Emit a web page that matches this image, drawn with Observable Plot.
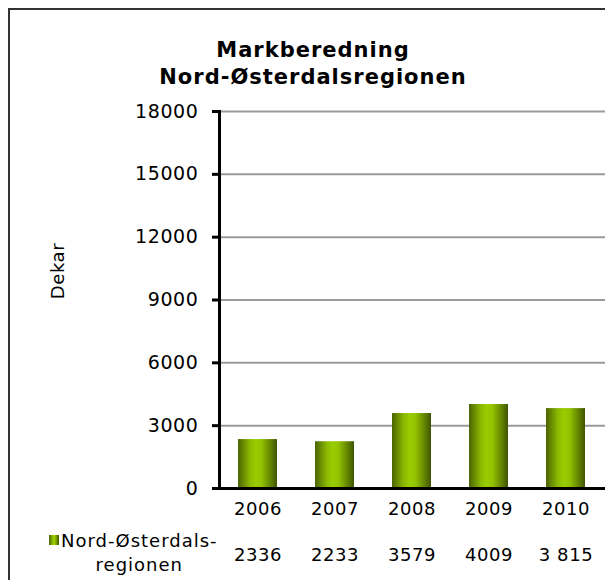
<!DOCTYPE html>
<html><head><meta charset="utf-8">
<script src="https://cdn.jsdelivr.net/npm/d3@7"></script>
<script src="https://cdn.jsdelivr.net/npm/@observablehq/plot@0.6"></script>
<style>
body{margin:0;background:#fff;}
#wrap{position:relative;width:605px;height:580px;overflow:hidden;font-family:"DejaVu Sans",Verdana,sans-serif;color:#000;}
#border{position:absolute;left:8px;top:8px;width:640px;height:640px;border:2px solid #333;}
#title{position:absolute;left:113px;width:400px;top:37px;text-align:center;font-weight:bold;font-size:21px;line-height:27px;letter-spacing:1px;}
#chart{position:absolute;left:0;top:0;}
#legend{position:absolute;left:61px;top:529px;font-size:18px;line-height:24px;text-align:center;letter-spacing:1px;white-space:nowrap;}
#swatch{position:absolute;left:49px;top:535px;width:10px;height:10px;background:linear-gradient(to right,#4b6400,#99cc00 45%,#93c300 60%,#3f5400);}
</style>
</head><body>
<div id="wrap">
  <div id="border"></div>
  <div id="chart"></div>
  <div id="title">Markberedning<br>Nord-Østerdalsregionen</div>
  <div id="swatch"></div>
  <div id="legend">Nord-Østerdals-<br>regionen</div>
</div>
<script>
const years = ["2006", "2007", "2008", "2009", "2010"];
const values = [2336, 2233, 3579, 4009, 3815];
const valueLabels = ["2336", "2233", "3579", "4009", "3 815"];
const yTicks = [0, 3000, 6000, 9000, 12000, 15000, 18000];
const yLabel = "Dekar";

const data = years.map((y, i) => ({year: y, value: values[i], label: valueLabels[i]}));

const svg = Plot.plot({
  width: 605, height: 580,
  marginTop: 111, marginBottom: 92, marginLeft: 219, marginRight: 0,
  style: {fontFamily: "'DejaVu Sans', Verdana, sans-serif", background: "transparent", color: "#000"},
  x: {type: "band", domain: years, paddingInner: 0.49, paddingOuter: 0.245, axis: null},
  y: {domain: [0, 18000], axis: null},
  marks: [
    Plot.gridY(yTicks, {stroke: "#9a9a9a", strokeOpacity: 1, strokeWidth: 2}),
    Plot.barY(data, {x: "year", y: "value", fill: "url(#barGrad)"}),
    Plot.axisY(yTicks, {tickSize: 7, tickPadding: 14, fontSize: 19, letterSpacing: 0.6, tickFormat: d => String(d), stroke: "#000", strokeWidth: 3, label: null}),
    Plot.frame({anchor: "left", stroke: "#000", strokeWidth: 3}),
    Plot.ruleY([0], {stroke: "#000", strokeWidth: 3}),
    Plot.text(data, {x: "year", y: 0, text: "year", dy: 21, fontSize: 18, fill: "#000"}),
    Plot.text(data, {x: "year", y: 0, text: "label", dy: 67, fontSize: 18, fill: "#000"}),
    Plot.text([yLabel], {frameAnchor: "left", text: d => d, textAnchor: "middle", dx: -161, dy: -29, rotate: -90, fontSize: 18, fill: "#000"})
  ]
});
const ns = "http://www.w3.org/2000/svg";
const defs = document.createElementNS(ns, "defs");
defs.innerHTML = '<linearGradient id="barGrad" x1="0" x2="1" y1="0" y2="0">' +
  '<stop offset="0" stop-color="#4b6400"/>' +
  '<stop offset="0.3" stop-color="#8ab800"/>' +
  '<stop offset="0.45" stop-color="#99cc00"/>' +
  '<stop offset="0.6" stop-color="#93c300"/>' +
  '<stop offset="0.85" stop-color="#5f8000"/>' +
  '<stop offset="1" stop-color="#3f5400"/>' +
  '</linearGradient>';
svg.insertBefore(defs, svg.firstChild);
svg.querySelectorAll("text").forEach(t => t.style.letterSpacing = "0.6px");
document.getElementById("chart").appendChild(svg);
</script>
</body></html>
